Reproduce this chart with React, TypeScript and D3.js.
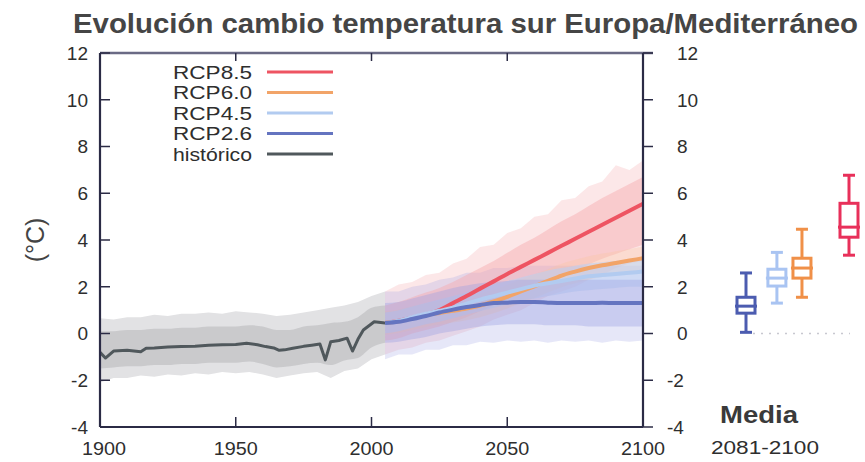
import React from "react";
import * as d3 from "d3";

// ---------- DATA ----------
const title = "Evolución cambio temperatura sur Europa/Mediterráneo";
const yTicks = [-4, -2, 0, 2, 4, 6, 8, 10, 12];
const xTicks = [1900, 1950, 2000, 2050, 2100];

const histYears = [1900, 1902, 1905, 1910, 1915, 1917, 1920, 1925, 1930, 1935, 1940, 1945, 1950, 1954, 1958, 1961, 1964, 1966, 1968, 1971, 1975, 1978, 1981, 1983, 1985, 1988, 1991, 1993, 1995, 1997, 2001, 2005];
const histMean = [-0.8, -1.05, -0.75, -0.72, -0.78, -0.63, -0.62, -0.58, -0.56, -0.55, -0.5, -0.48, -0.47, -0.42, -0.48, -0.56, -0.62, -0.72, -0.7, -0.63, -0.55, -0.5, -0.45, -1.13, -0.35, -0.3, -0.2, -0.75, -0.25, 0.15, 0.5, 0.45];

const histBandYears = [1900, 1905, 1910, 1915, 1920, 1925, 1930, 1935, 1940, 1945, 1950, 1955, 1960, 1965, 1970, 1975, 1980, 1985, 1990, 1995, 2000, 2005];
const histInnerLo = [-1.5, -1.45, -1.4, -1.4, -1.35, -1.35, -1.3, -1.3, -1.25, -1.25, -1.25, -1.2, -1.3, -1.45, -1.4, -1.3, -1.25, -1.35, -1.15, -1.05, -0.6, -0.4];
const histInnerHi = [0.1, 0.1, 0.15, 0.15, 0.2, 0.2, 0.25, 0.25, 0.3, 0.3, 0.3, 0.35, 0.3, 0.15, 0.15, 0.3, 0.35, 0.45, 0.5, 0.7, 1.1, 1.2];
const histOuterLo = [-2.1, -1.9, -1.9, -1.8, -1.85, -1.75, -1.8, -1.7, -1.75, -1.65, -1.7, -1.65, -1.75, -1.9, -1.8, -1.7, -1.65, -1.9, -1.6, -1.5, -1.1, -0.9];
const histOuterHi = [0.65, 0.6, 0.7, 0.7, 0.8, 0.75, 0.85, 0.85, 0.9, 0.85, 0.95, 0.9, 0.85, 0.75, 0.8, 0.9, 1.0, 1.1, 1.2, 1.35, 1.6, 1.8];

const scenYears = [2005, 2010, 2015, 2020, 2025, 2030, 2035, 2040, 2045, 2050, 2055, 2060, 2065, 2070, 2075, 2080, 2085, 2090, 2095, 2100];

const rcp85Mean = [0.45, 0.55, 0.68, 0.82, 1.0, 1.3, 1.6, 1.92, 2.23, 2.55, 2.85, 3.15, 3.45, 3.75, 4.05, 4.35, 4.65, 4.95, 5.25, 5.55];
const rcp85InnerLo = [-0.3, -0.2, 0.0, 0.15, 0.3, 0.5, 0.7, 0.95, 1.2, 1.45, 1.7, 1.95, 2.2, 2.45, 2.7, 2.95, 3.2, 3.4, 3.6, 3.8];
const rcp85InnerHi = [1.2, 1.35, 1.55, 1.75, 1.95, 2.2, 2.5, 2.8, 3.1, 3.45, 3.8, 4.1, 4.45, 4.8, 5.1, 5.45, 5.8, 6.1, 6.4, 6.7];
const rcp85OuterLo = [-0.9, -0.7, -0.6, -0.4, -0.3, -0.1, 0.1, 0.3, 0.6, 0.8, 1.0, 1.3, 1.6, 1.8, 2.0, 2.3, 2.5, 2.8, 3.0, 3.1];
const rcp85OuterHi = [1.8, 2.1, 2.2, 2.5, 2.6, 3.0, 3.2, 3.7, 3.8, 4.3, 4.5, 5.0, 5.1, 5.7, 5.8, 6.3, 6.5, 7.2, 7.0, 7.4];

const rcp60Mean = [0.45, 0.52, 0.65, 0.78, 0.88, 0.97, 1.07, 1.2, 1.37, 1.57, 1.8, 2.02, 2.25, 2.48, 2.65, 2.8, 2.92, 3.02, 3.12, 3.22];
const rcp60InnerLo = [-0.05, 0.02, 0.15, 0.28, 0.38, 0.47, 0.57, 0.7, 0.87, 1.07, 1.3, 1.52, 1.75, 1.98, 2.15, 2.3, 2.42, 2.52, 2.62, 2.72];
const rcp60InnerHi = [0.95, 1.02, 1.15, 1.28, 1.38, 1.47, 1.57, 1.7, 1.87, 2.07, 2.3, 2.52, 2.75, 2.98, 3.15, 3.3, 3.42, 3.52, 3.62, 3.72];

const rcp45Mean = [0.45, 0.55, 0.7, 0.85, 0.97, 1.1, 1.28, 1.45, 1.6, 1.75, 1.9, 2.05, 2.15, 2.25, 2.35, 2.45, 2.5, 2.55, 2.6, 2.65];
const rcp45InnerLo = [0.0, 0.1, 0.25, 0.4, 0.5, 0.65, 0.8, 0.95, 1.1, 1.25, 1.4, 1.5, 1.6, 1.7, 1.8, 1.85, 1.9, 1.95, 2.0, 2.0];
const rcp45InnerHi = [0.9, 1.0, 1.15, 1.3, 1.45, 1.6, 1.75, 1.95, 2.1, 2.25, 2.4, 2.55, 2.7, 2.8, 2.9, 3.0, 3.05, 3.1, 3.15, 3.2];

const rcp26Mean = [0.45, 0.5, 0.62, 0.75, 0.9, 1.02, 1.13, 1.22, 1.3, 1.32, 1.35, 1.35, 1.32, 1.3, 1.3, 1.3, 1.32, 1.3, 1.3, 1.3];
const rcp26InnerLo = [-0.4, -0.35, -0.25, -0.15, 0.0, 0.1, 0.2, 0.3, 0.35, 0.4, 0.4, 0.4, 0.35, 0.35, 0.35, 0.3, 0.3, 0.3, 0.3, 0.3];
const rcp26InnerHi = [1.3, 1.35, 1.5, 1.65, 1.8, 1.95, 2.05, 2.15, 2.2, 2.25, 2.3, 2.3, 2.3, 2.3, 2.3, 2.3, 2.3, 2.3, 2.3, 2.3];
const rcp26OuterLo = [-1.1, -0.9, -0.9, -0.7, -0.7, -0.5, -0.5, -0.35, -0.4, -0.3, -0.35, -0.3, -0.4, -0.3, -0.35, -0.3, -0.4, -0.3, -0.35, -0.3];
const rcp26OuterHi = [1.8, 1.8, 2.0, 2.1, 2.3, 2.4, 2.6, 2.6, 2.8, 2.8, 2.9, 2.9, 2.9, 2.9, 2.9, 2.9, 3.0, 2.9, 2.9, 2.9];

const legendLabels = ["RCP8.5", "RCP6.0", "RCP4.5", "RCP2.6", "histórico"];

const boxLabels = ["RCP2.6", "RCP4.5", "RCP6.0", "RCP8.5"];
const boxMin = [0.05, 1.3, 1.55, 3.35];
const boxQ1 = [0.87, 2.03, 2.37, 4.12];
const boxMedian = [1.17, 2.37, 2.8, 4.55];
const boxQ3 = [1.55, 2.75, 3.22, 5.57];
const boxMax = [2.59, 3.47, 4.46, 6.77];

// ---------- STYLE / LAYOUT ----------
const W = 865, H = 462;
const X0 = 100, X1 = 643, YT = 53, YB = 427;
const AXIS = "#2b2b45";
const TXT = "#2e2e2e";
const FONT = "'Liberation Sans', Arial, Helvetica, sans-serif";
const COL = {
  r85: "#ee5462", r60: "#f2a468", r45: "#b2cbf0", r26: "#6474c0", hist: "#50585c",
  r85b: "#f6a8ac", r60b: "#f8c7a2", r45b: "#b9cff2", r26b: "#9aa0e2", histIn: "#c2c2c4", histOut: "#e2e2e4",
};
const legendColors = [COL.r85, COL.r60, COL.r45, COL.r26, COL.hist];
const boxColors = ["#4c5cb0", "#a9c4f2", "#f09048", "#e8305a"];
const BOX_SLOT = [0, 0.9, 1.63, 3];

export default function App() {
  const x = d3.scaleLinear().domain([1900, 2100]).range([X0, X1]);
  const y = d3.scaleLinear().domain([-4, 12]).range([YB, YT]);
  const bx = d3.scaleLinear().domain([0, 3]).range([746, 849]);

  const band = (years: number[], lo: number[], hi: number[], curve: any = d3.curveMonotoneX) =>
    d3.area<number>().x((_, i) => x(years[i])).y0((_, i) => y(lo[i])).y1((_, i) => y(hi[i])).curve(curve)(years) || "";
  const line = (years: number[], v: number[], curve: any = d3.curveMonotoneX) =>
    d3.line<number>().x((_, i) => x(years[i])).y((_, i) => y(v[i])).curve(curve)(years) || "";

  const clipId = "plotclip";

  return (
    <svg width={W} height={H} style={{ position: "absolute", left: 0, top: 0, background: "#fff" }} fontFamily={FONT}>
      <defs>
        <clipPath id={clipId}><rect x={X0} y={YT} width={X1 - X0} height={YB - YT} /></clipPath>
      </defs>
      <rect width={W} height={H} fill="#fff" />
      <text x={73} y={33} fontSize={27} fontWeight="bold" fill="#454545" textLength={785} lengthAdjust="spacingAndGlyphs">{title}</text>

      {/* bands */}
      <g clipPath={`url(#${clipId})`}>
        <path d={band(histBandYears, histOuterLo, histOuterHi, d3.curveLinear)} fill={COL.histOut} />
        <path d={band(histBandYears, histInnerLo, histInnerHi)} fill={COL.histIn} opacity={0.75} />

        <path d={band(scenYears, rcp85OuterLo, rcp85OuterHi, d3.curveLinear)} fill={COL.r85b} opacity={0.28} />
        <path d={band(scenYears, rcp26OuterLo, rcp26OuterHi, d3.curveLinear)} fill={COL.r26b} opacity={0.25} />
        <path d={band(scenYears, rcp85InnerLo, rcp85InnerHi)} fill={COL.r85b} opacity={0.45} />
        <path d={band(scenYears, rcp60InnerLo, rcp60InnerHi)} fill={COL.r60b} opacity={0.35} />
        <path d={band(scenYears, rcp45InnerLo, rcp45InnerHi)} fill={COL.r45b} opacity={0.55} />
        <path d={band(scenYears, rcp26InnerLo, rcp26InnerHi)} fill={COL.r26b} opacity={0.38} />

        <path d={line(histYears, histMean, d3.curveLinear)} fill="none" stroke={COL.hist} strokeWidth={3} strokeLinejoin="round" />
        <path d={line(scenYears, rcp85Mean)} fill="none" stroke={COL.r85} strokeWidth={4} />
        <path d={line(scenYears, rcp60Mean)} fill="none" stroke={COL.r60} strokeWidth={4} />
        <path d={line(scenYears, rcp45Mean)} fill="none" stroke={COL.r45} strokeWidth={4} />
        <path d={line(scenYears, rcp26Mean)} fill="none" stroke={COL.r26} strokeWidth={4} />
      </g>

      {/* frame */}
      <line x1={X0} x2={X1 + 10} y1={YT} y2={YT} stroke="#6a6a85" strokeWidth={2.5} />
      <line x1={X0} x2={X1} y1={YB} y2={YB} stroke={AXIS} strokeWidth={2.2} />
      <line x1={X0} x2={X0} y1={YT} y2={YB} stroke={AXIS} strokeWidth={2.2} />
      <line x1={X1} x2={X1} y1={YT} y2={YB} stroke={AXIS} strokeWidth={2.2} />

      {/* y ticks */}
      {yTicks.map((t) => (
        <g key={"y" + t}>
          <line x1={X0} x2={X0 + 10} y1={y(t)} y2={y(t)} stroke={AXIS} strokeWidth={1.5} />
          <line x1={X1} x2={X1 + 10} y1={y(t)} y2={y(t)} stroke={AXIS} strokeWidth={1.5} />
          <text x={88} y={y(t)} dy="0.36em" textAnchor="end" fontSize={19} fill={TXT}>{t}</text>
          <text x={t < 0 ? 667 : 677} y={y(t)} dy="0.36em" textAnchor="start" fontSize={19} fill={TXT}>{t}</text>
        </g>
      ))}
      {/* x ticks */}
      {xTicks.map((t) => (
        <g key={"x" + t}>
          {t > 1900 && t < 2100 && (
            <>
              <line x1={x(t)} x2={x(t)} y1={YB} y2={YB - 10} stroke={AXIS} strokeWidth={1.5} />
              <line x1={x(t)} x2={x(t)} y1={YT} y2={YT + 8} stroke={AXIS} strokeWidth={1.5} />
            </>
          )}
          <text x={x(t) + (t === 1900 ? 4 : 0)} y={455} textAnchor="middle" fontSize={19} fill={TXT} textLength={44} lengthAdjust="spacingAndGlyphs">{t}</text>
        </g>
      ))}

      <text transform={`translate(44,240) rotate(-90)`} textAnchor="middle" fontSize={25} fill="#444">(°C)</text>

      {/* legend */}
      {legendLabels.map((l, i) => (
        <g key={l}>
          <text x={252} y={72 + i * 20.5} dy="0.36em" textAnchor="end" fontSize={19} fill={TXT} textLength={79} lengthAdjust="spacingAndGlyphs">{l}</text>
          <line x1={267} x2={333} y1={72 + i * 20.5} y2={72 + i * 20.5} stroke={legendColors[i]} strokeWidth={3} />
        </g>
      ))}

      {/* box plots */}
      <line x1={753} x2={850} y1={y(0)} y2={y(0)} stroke="#c8c8d0" strokeWidth={1.5} strokeDasharray="2 6" />
      {boxLabels.map((b, i) => {
        const cx = bx(BOX_SLOT[i]);
        const c = boxColors[i];
        return (
          <g key={b} stroke={c} strokeWidth={3} fill="none">
            <line x1={cx} x2={cx} y1={y(boxMax[i])} y2={y(boxQ3[i])} />
            <line x1={cx} x2={cx} y1={y(boxQ1[i])} y2={y(boxMin[i])} />
            <line x1={cx - 6} x2={cx + 6} y1={y(boxMax[i])} y2={y(boxMax[i])} />
            <line x1={cx - 6} x2={cx + 6} y1={y(boxMin[i])} y2={y(boxMin[i])} />
            <rect x={cx - 9} y={y(boxQ3[i])} width={18} height={y(boxQ1[i]) - y(boxQ3[i])} fill="#fff" />
            <line x1={cx - 11} x2={cx + 11} y1={y(boxMedian[i])} y2={y(boxMedian[i])} />
          </g>
        );
      })}
      <text x={759} y={423} textAnchor="middle" fontSize={23} fontWeight="bold" fill="#3a3a3a" textLength={78} lengthAdjust="spacingAndGlyphs">Media</text>
      <text x={765} y={454} textAnchor="middle" fontSize={19} fill={TXT} textLength={108} lengthAdjust="spacingAndGlyphs">2081-2100</text>
    </svg>
  );
}
